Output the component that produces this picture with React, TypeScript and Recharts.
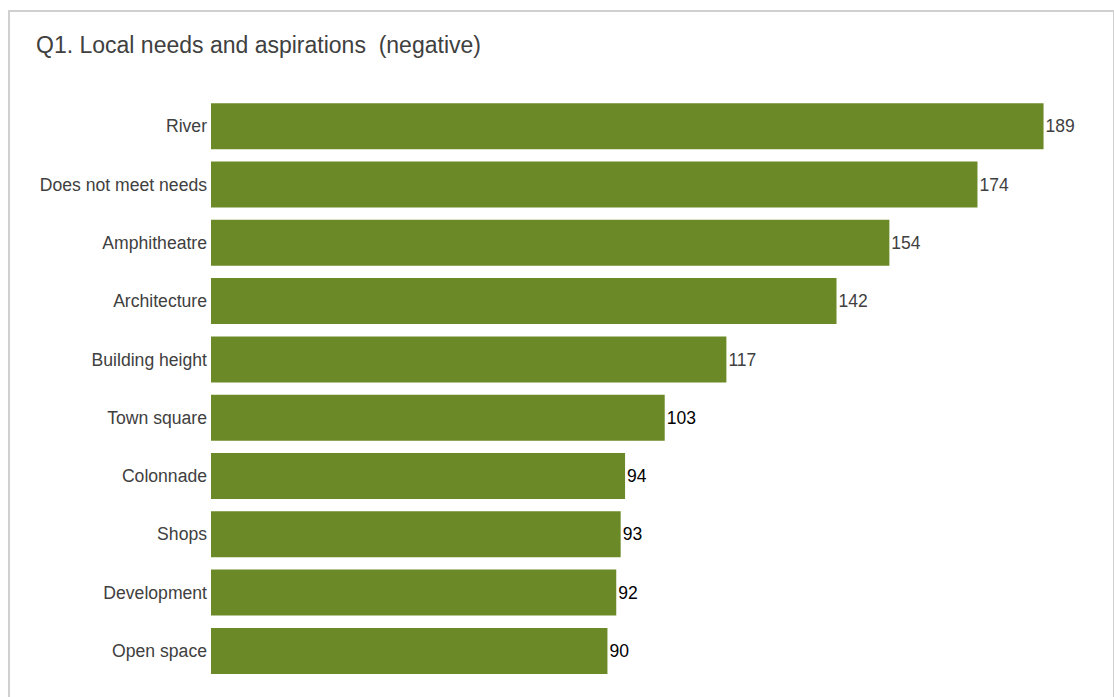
import { BarChart, Bar, XAxis, YAxis, LabelList, Cell } from 'recharts'

const categories = [
  'River',
  'Does not meet needs',
  'Amphitheatre',
  'Architecture',
  'Building height',
  'Town square',
  'Colonnade',
  'Shops',
  'Development',
  'Open space',
]

const counts = [189, 174, 154, 142, 117, 103, 94, 93, 92, 90]

// value label colours as they appear in the picture (top five grey, the rest black)
const labelColors = ['#404040', '#404040', '#404040', '#404040', '#404040', '#000', '#000', '#000', '#000', '#000']

const BAR_COLOR = '#6B8A27'
const FONT = '"Liberation Sans", Arial, sans-serif'

export default function App() {
  const data = categories.map((name, i) => ({ name, value: counts[i] }))

  const renderValue = (props: any) => {
    const { x, y, width, height, value, index } = props
    return (
      <text
        x={x + width + 2}
        y={y + height / 2}
        dy="0.355em"
        fill={labelColors[index]}
        fontSize={17.5}
        fontFamily={FONT}
      >
        {value}
      </text>
    )
  }

  return (
    <div
      style={{
        position: 'absolute',
        left: 0,
        top: 0,
        width: 1114,
        height: 697,
        overflow: 'hidden',
        background: '#fff',
        fontFamily: FONT,
      }}
    >
      <div
        style={{
          position: 'absolute',
          left: 8,
          top: 10,
          width: 1103,
          height: 720,
          border: '2px solid #d0d0d0',
        }}
      />
      <div
        style={{
          position: 'absolute',
          left: 36,
          top: 32,
          fontSize: 23,
          color: '#404040',
          whiteSpace: 'pre',
        }}
      >
        {'Q1. Local needs and aspirations  (negative)'}
      </div>
      <div style={{ position: 'absolute', left: 0, top: 0 }}>
        <BarChart
          width={1114}
          height={697}
          data={data}
          layout="vertical"
          margin={{ top: 97, right: 22, bottom: 17, left: 11 }}
          barCategoryGap="10.6%"
        >
          <XAxis type="number" domain={[0, 200]} hide />
          <YAxis
            type="category"
            dataKey="name"
            width={200}
            axisLine={false}
            tickLine={false}
            tickSize={2}
            tickMargin={2}
            interval={0}
            tick={{ fill: '#404040', fontSize: 17.6, fontFamily: FONT }}
          />
          <Bar dataKey="value" fill={BAR_COLOR} isAnimationActive={false}>
            {data.map((d, i) => (
              <Cell key={`cell-${i}`} fill={BAR_COLOR} />
            ))}
            <LabelList dataKey="value" content={renderValue} />
          </Bar>
        </BarChart>
      </div>
    </div>
  )
}
